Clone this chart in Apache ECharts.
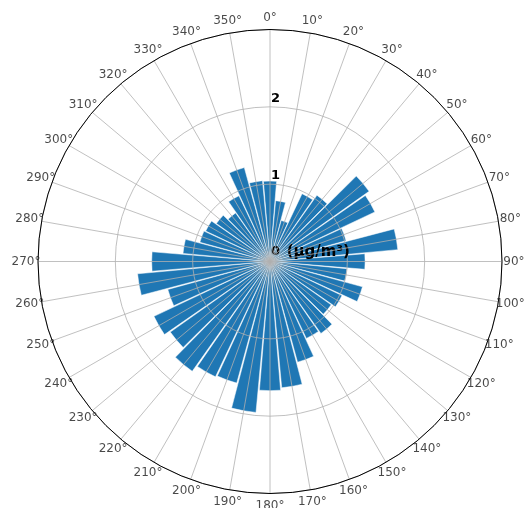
<!DOCTYPE html>
<html>
<head>
<meta charset="utf-8">
<script src="https://cdn.jsdelivr.net/npm/echarts@6/dist/echarts.min.js"></script>
<style>
  html, body { margin: 0; padding: 0; background: #fff; }
  #chart { width: 525px; height: 508px; }
</style>
</head>
<body>
<div id="chart"></div>
<script>
// Wind directions (degrees, clockwise from north), one bar per 10° sector
const directions = [0, 10, 20, 30, 40, 50, 60, 70, 80, 90, 100, 110, 120, 130, 140, 150, 160, 170,
  180, 190, 200, 210, 220, 230, 240, 250, 260, 270, 280, 290, 300, 310, 320, 330, 340, 350];

// Mean concentration per direction sector (µg/m³)
const concentration = [1.04, 0.79, 0.55, 0.97, 1.05, 1.57, 1.50, 1.02, 1.66, 1.23, 1.00, 1.24,
  1.03, 0.97, 1.14, 1.10, 1.35, 1.64, 1.67, 1.96, 1.63, 1.65, 1.74, 1.58, 1.66, 1.37, 1.72, 1.53,
  1.13, 0.94, 0.92, 0.85, 0.77, 0.94, 1.26, 1.05];

// Angular tick labels around the rim
const angleTicks = directions.slice();
const angleLabels = angleTicks.map(a => a + '°');

// Radial tick labels (0 carries the unit)
const radialTicks = [0, 1, 2, 3];
const radialLabels = ['{n|0}  {u|(µg/m³)}', '{n|1}', '{n|2}', ''];

const RMAX = 3;
const LABEL_R = 3.155;

const chart = echarts.init(document.getElementById('chart'), null, { renderer: 'canvas' });
const font = 'DejaVu Sans';
const center = [270, 261.5];
const radius = 232;

chart.setOption({
  backgroundColor: '#ffffff',
  animation: false,
  polar: [
    { center: center, radius: radius },
    { center: center, radius: radius }
  ],
  angleAxis: [
    {
      polarIndex: 0,
      type: 'value',
      min: 0,
      max: 360,
      interval: 10,
      startAngle: 90,
      clockwise: true,
      z: 4,
      axisLine: { show: true, lineStyle: { color: '#000', width: 1 } },
      axisTick: { show: false },
      axisLabel: { show: false },
      splitLine: { show: true, lineStyle: { color: '#b0b0b0', width: 0.8 } }
    },
    {
      polarIndex: 1,
      type: 'category',
      data: directions.map(String),
      startAngle: 95,
      clockwise: true,
      show: false
    }
  ],
  radiusAxis: [
    {
      polarIndex: 0,
      type: 'value',
      min: 0,
      max: RMAX,
      interval: 1,
      z: 3,
      axisLine: { show: false },
      axisTick: { show: false },
      splitLine: { show: true, lineStyle: { color: '#b0b0b0', width: 0.8 } },
      axisLabel: {
        show: true,
        margin: 0,
        rotate: 0,
        align: 'left',
        verticalAlign: 'bottom',
        padding: [0, 0, 2, 1],
        formatter: function (v) {
          const i = radialTicks.indexOf(v);
          return i >= 0 ? radialLabels[i] : '';
        },
        rich: {
          n: { fontFamily: font, fontWeight: 'bold', fontSize: 13, color: '#000' },
          u: { fontFamily: font, fontWeight: 'bold', fontSize: 15, color: '#000' }
        }
      }
    },
    {
      polarIndex: 1,
      type: 'value',
      min: 0,
      max: RMAX,
      show: false
    }
  ],
  series: [
    {
      type: 'bar',
      coordinateSystem: 'polar',
      polarIndex: 1,
      data: concentration,
      barCategoryGap: '6%',
      z: 2,
      itemStyle: { color: '#1f77b4', borderColor: '#ffffff', borderWidth: 0.5 },
      silent: true
    },
    {
      type: 'scatter',
      coordinateSystem: 'polar',
      polarIndex: 0,
      clip: false,
      symbol: 'circle',
      symbolSize: 1,
      itemStyle: { color: 'rgba(0,0,0,0)' },
      silent: true,
      z: 5,
      data: angleTicks.map(a => [LABEL_R, a]),
      label: {
        show: true,
        position: 'inside',
        fontFamily: font,
        fontSize: 12,
        color: '#1a1a1a',
        formatter: function (p) { return angleLabels[p.dataIndex]; }
      }
    }
  ]
});
</script>
</body>
</html>
